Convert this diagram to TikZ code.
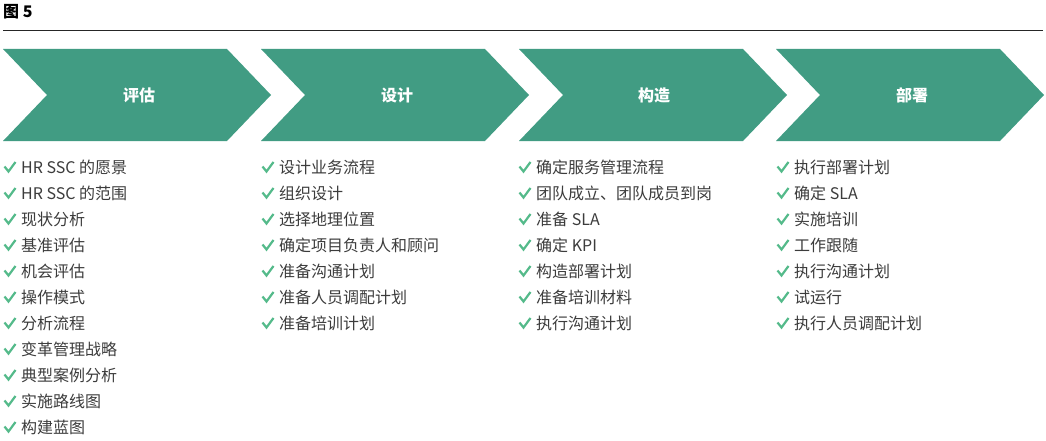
\documentclass[tikz,border=0pt]{standalone}
\usepackage{fontspec}
\setmainfont{Noto Sans CJK SC}
\definecolor{chev}{RGB}{65,156,131}
\definecolor{tick}{RGB}{84,186,138}
\definecolor{itemtxt}{RGB}{60,60,60}
\tikzset{
  chevron/.style={fill=chev, draw=none},
  chevlabel/.style={text=white, font=\fontsize{16}{18}\selectfont\bfseries, inner sep=0pt},
  item/.style={text=itemtxt, font=\fontsize{16}{18}\selectfont, anchor=base west, inner sep=0pt},
  tickmark/.style={draw=tick, line width=2.2pt, line cap=butt, line join=miter},
}
\newcommand{\checkitem}[4]{% #1 = col x, #2 = row index, #3 = name, #4 = text
  \pgfmathsetmacro{\yy}{167+26*#2}
  \draw[tickmark] (#1+1.5,\yy-0.5) -- (#1+5.5,\yy+4.5) -- (#1+12.5,\yy-5);
  \node[item] (#3) at (#1+18,\yy+6) {#4};
}
\begin{document}
\begin{tikzpicture}[x=1pt,y=-1pt]
\useasboundingbox (0,0) rectangle (1046,441);
\fill[white] (0,0) rectangle (1046,441);
% title
\node[anchor=base west, inner sep=0pt, font=\fontsize{16}{18}\selectfont\bfseries, text=black] (title) at (3,18) {图 5};
\coordinate (ruleL) at (3,30);
\coordinate (ruleR) at (1043,30);
\draw[line width=0.9pt, black!85] (ruleL) -- (ruleR);
% chevrons
\fill[chevron] (3,49) -- (227,49) -- (271,95) -- (227,141) -- (3,141) -- (47,95) -- cycle;
\fill[chevron] (261,49) -- (485,49) -- (529,95) -- (485,141) -- (261,141) -- (305,95) -- cycle;
\fill[chevron] (519,49) -- (743,49) -- (787,95) -- (743,141) -- (519,141) -- (563,95) -- cycle;
\fill[chevron] (776,49) -- (1000,49) -- (1044,95) -- (1000,141) -- (776,141) -- (820,95) -- cycle;
\node[chevlabel] (c1) at (139,95) {评估};
\node[chevlabel] (c2) at (397,95) {设计};
\node[chevlabel] (c3) at (654,95) {构造};
\node[chevlabel] (c4) at (912,95) {部署};
% column 1
\checkitem{3}{0}{a1}{HR SSC 的愿景}
\checkitem{3}{1}{a2}{HR SSC 的范围}
\checkitem{3}{2}{a3}{现状分析}
\checkitem{3}{3}{a4}{基准评估}
\checkitem{3}{4}{a5}{机会评估}
\checkitem{3}{5}{a6}{操作模式}
\checkitem{3}{6}{a7}{分析流程}
\checkitem{3}{7}{a8}{变革管理战略}
\checkitem{3}{8}{a9}{典型案例分析}
\checkitem{3}{9}{a10}{实施路线图}
\checkitem{3}{10}{a11}{构建蓝图}
% column 2
\checkitem{261}{0}{b1}{设计业务流程}
\checkitem{261}{1}{b2}{组织设计}
\checkitem{261}{2}{b3}{选择地理位置}
\checkitem{261}{3}{b4}{确定项目负责人和顾问}
\checkitem{261}{4}{b5}{准备沟通计划}
\checkitem{261}{5}{b6}{准备人员调配计划}
\checkitem{261}{6}{b7}{准备培训计划}
% column 3
\checkitem{518}{0}{d1}{确定服务管理流程}
\checkitem{518}{1}{d2}{团队成立、团队成员到岗}
\checkitem{518}{2}{d3}{准备 SLA}
\checkitem{518}{3}{d4}{确定 KPI}
\checkitem{518}{4}{d5}{构造部署计划}
\checkitem{518}{5}{d6}{准备培训材料}
\checkitem{518}{6}{d7}{执行沟通计划}
% column 4
\checkitem{776}{0}{e1}{执行部署计划}
\checkitem{776}{1}{e2}{确定 SLA}
\checkitem{776}{2}{e3}{实施培训}
\checkitem{776}{3}{e4}{工作跟随}
\checkitem{776}{4}{e5}{执行沟通计划}
\checkitem{776}{5}{e6}{试运行}
\checkitem{776}{6}{e7}{执行人员调配计划}
\end{tikzpicture}
\end{document}
